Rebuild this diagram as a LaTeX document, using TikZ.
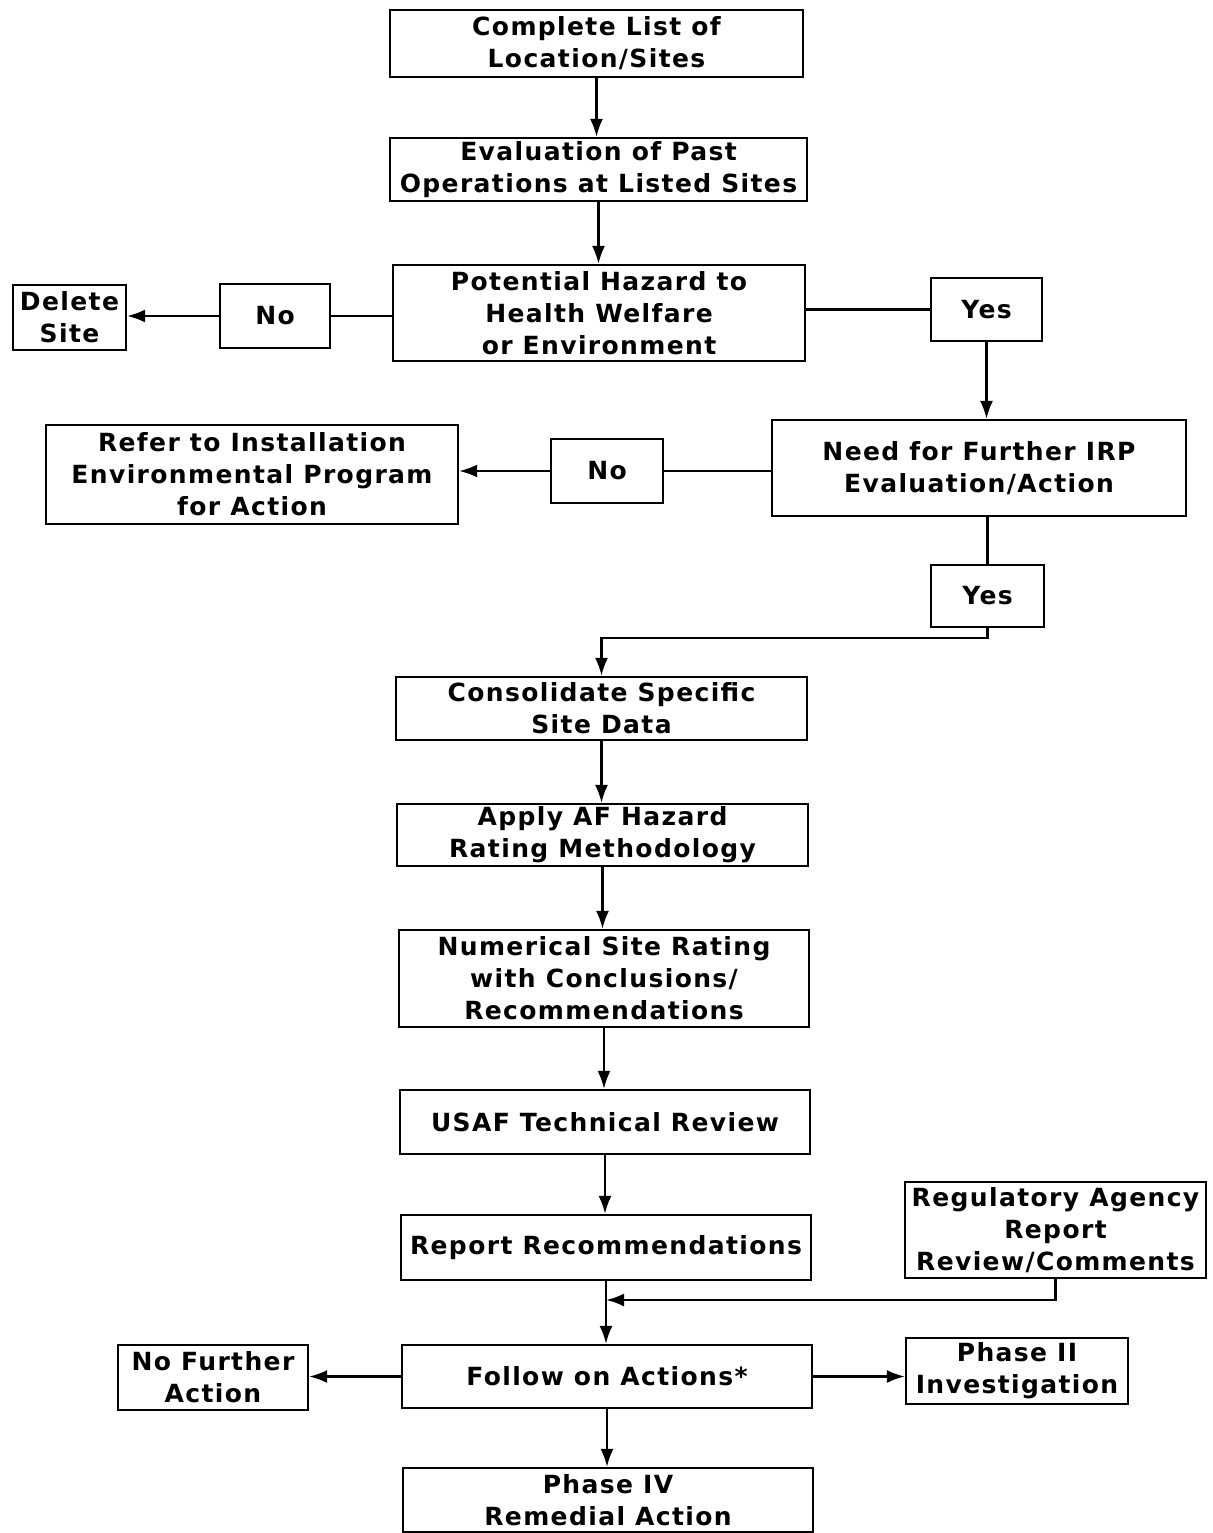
\documentclass[tikz,border=0pt]{standalone}
\usepackage{fontspec}
\setmainfont[LetterSpace=5.5]{DejaVu Sans}
\usetikzlibrary{arrows.meta}
\begin{document}
\begin{tikzpicture}[x=1pt,y=-1pt,
  box/.style={draw,line width=2.2pt,align=center,inner sep=0pt,
    font=\fontsize{25}{32}\selectfont\bfseries},
  conn/.style={line width=2.4pt},
  arr/.style={conn,-{Latex[length=18pt,width=13pt]}}]
\path[use as bounding box] (0,0) rectangle (1212,1533);
\node[box,minimum width=413,minimum height=67] (c1) at (596.5,43.5) {Complete List of\\Location/Sites};
\node[box,minimum width=417,minimum height=63] (c2) at (598.5,169.5) {Evaluation of Past\\Operations at Listed Sites};
\node[box,minimum width=412,minimum height=96] (c3) at (599,313) {Potential Hazard to\\Health Welfare\\or Environment};
\node[box,minimum width=113,minimum height=65] (del) at (69.5,317.5) {Delete\\Site};
\node[box,minimum width=110,minimum height=64] (no1) at (275,316) {No};
\node[box,minimum width=111,minimum height=63] (yes1) at (986.5,309.5) {Yes};
\node[box,minimum width=414,minimum height=96] (need) at (979,468) {Need for Further IRP\\Evaluation/Action};
\node[box,minimum width=112,minimum height=64] (no2) at (607,471) {No};
\node[box,minimum width=412,minimum height=99] (refer) at (252,474.5) {Refer to Installation\\Environmental Program\\for Action};
\node[box,minimum width=113,minimum height=62] (yes2) at (987.5,596) {Yes};
\node[box,minimum width=411,minimum height=63] (cons) at (601.5,708.5) {Consolidate Specific\\Site Data};
\node[box,minimum width=411,minimum height=62] (apply) at (602.5,835) {Apply AF Hazard\\Rating Methodology};
\node[box,minimum width=410,minimum height=97] (num) at (604,978.5) {Numerical Site Rating\\with Conclusions/\\Recommendations};
\node[box,minimum width=410,minimum height=64] (usaf) at (605,1122) {USAF Technical Review};
\node[box,minimum width=410,minimum height=65] (rep) at (606,1247.5) {Report Recommendations};
\node[box,minimum width=301,minimum height=96] (reg) at (1055.5,1230) {Regulatory Agency\\Report\\Review/Comments};
\node[box,minimum width=410,minimum height=63] (follow) at (607,1376.5) {Follow on Actions*};
\node[box,minimum width=190,minimum height=65] (nofa) at (213,1377.5) {No Further\\Action};
\node[box,minimum width=222,minimum height=66] (ph2) at (1017,1371) {Phase II\\Investigation};
\node[box,minimum width=410,minimum height=64] (ph4) at (608,1500) {Phase IV\\Remedial Action};
\draw[arr] (c1.south) -- (c1.south |- c2.north);
\draw[arr] (c2.south) -- (c2.south |- c3.north);
\draw[conn] (no1.east) -- (no1.east -| c3.west);
\draw[arr] (no1.west) -- (no1.west -| del.east);
\draw[conn] (c3.east |- yes1.west) -- (yes1.west);
\draw[arr] (yes1.south) -- (yes1.south |- need.north);
\draw[conn] (need.west |- no2.east) -- (no2.east);
\draw[arr] (no2.west) -- (no2.west -| refer.east);
\draw[conn] (yes2.north |- need.south) -- (yes2.north);
\draw[arr] (yes2.south) -- ++(0,10) -| (cons.north);
\draw[arr] (cons.south) -- (cons.south |- apply.north);
\draw[arr] (apply.south) -- (apply.south |- num.north);
\draw[arr] (num.south) -- (num.south |- usaf.north);
\draw[arr] (usaf.south) -- (usaf.south |- rep.north);
\draw[arr] (rep.south) -- (rep.south |- follow.north);
\coordinate (j2) at (606,1300);
\draw[arr] (reg.south) |- (j2);
\draw[arr] (follow.west) -- (follow.west -| nofa.east);
\draw[arr] (follow.east) -- (follow.east -| ph2.west);
\draw[arr] (follow.south) -- (follow.south |- ph4.north);
\end{tikzpicture}
\end{document}
